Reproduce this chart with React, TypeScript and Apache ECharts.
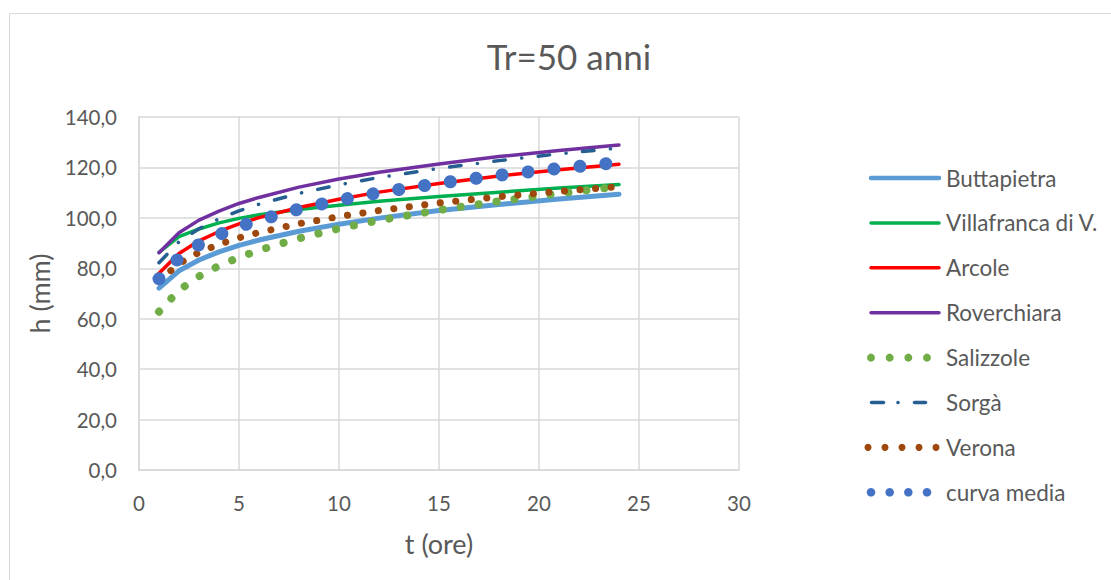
import React, { useEffect, useRef } from 'react';
import * as echarts from 'echarts';

const T = [1, 2, 3, 4, 5, 6, 8, 10, 12, 15, 18, 21, 24];
const buttapietra = [72.1, 79.0, 83.3, 86.5, 89.1, 91.2, 94.7, 97.5, 99.9, 102.9, 105.3, 107.5, 109.4];
const villafranca = [86.3, 92.6, 95.6, 98.0, 99.8, 101.2, 103.3, 105.0, 106.6, 108.5, 110.2, 111.8, 113.2];
const arcole = [78.0, 85.9, 90.9, 94.6, 97.6, 100.1, 104.1, 107.4, 110.2, 113.6, 116.6, 119.1, 121.3];
const roverchiara = [86.2, 94.1, 99.1, 102.7, 105.7, 108.1, 112.2, 115.4, 118.1, 121.4, 124.3, 126.7, 128.9];
const salizzole = [62.8, 71.3, 76.8, 81.0, 84.3, 87.2, 91.9, 95.8, 99.0, 103.1, 106.6, 109.7, 112.4];
const sorga = [82.2, 90.5, 95.7, 99.6, 102.8, 105.4, 109.7, 113.1, 116.0, 119.6, 122.7, 125.4, 127.7];
const verona = [75.0, 81.9, 86.3, 89.5, 92.1, 94.2, 97.7, 100.5, 102.9, 105.9, 108.4, 110.5, 112.4];
const curvaMedia = [75.8, 84.1, 89.4, 93.3, 96.5, 99.1, 103.5, 107.0, 110.0, 113.7, 116.9, 119.6, 122.0];

const xTicks = { min: 0, max: 30, interval: 5 };
const yTicks = { min: 0, max: 140, interval: 20 };

const FONT = 'Lato, "Open Sans", sans-serif';
const TEXT = '#595959';
const GRID = '#d9d9d9';

const pts = (vals: number[]) => T.map((t, i) => [t, vals[i]]);

type Def = {
  name: string;
  data: number[];
  color: string;
  width: number;
  dash: any;
  legend: { kind: 'solid' | 'dots' | 'dashdot'; count?: number; x2?: number; w?: number };
};

const seriesDefs: Def[] = [
  { name: 'Buttapietra', data: buttapietra, color: '#5B9BD5', width: 5, dash: 'solid', legend: { kind: 'solid', w: 4.5 } },
  { name: 'Villafranca di V.', data: villafranca, color: '#00B050', width: 3.5, dash: 'solid', legend: { kind: 'solid', w: 3.5 } },
  { name: 'Arcole', data: arcole, color: '#FF0000', width: 3.5, dash: 'solid', legend: { kind: 'solid', w: 3.5 } },
  { name: 'Roverchiara', data: roverchiara, color: '#7030A0', width: 3.5, dash: 'solid', legend: { kind: 'solid', w: 3.5 } },
  { name: 'Salizzole', data: salizzole, color: '#70AD47', width: 8, dash: [0.1, 18], legend: { kind: 'dots', count: 4, x2: 927, w: 8 } },
  { name: 'Sorgà', data: sorga, color: '#255E91', width: 3.5, dash: [11.5, 16.5, 0.1, 16.5], legend: { kind: 'dashdot', w: 3.5 } },
  { name: 'Verona', data: verona, color: '#9E480E', width: 7, dash: [0.1, 15.5], legend: { kind: 'dots', count: 5, x2: 936, w: 7 } },
  { name: 'curva media', data: curvaMedia, color: '#4472C4', width: 13, dash: [0.1, 26], legend: { kind: 'dots', count: 4, x2: 927, w: 8.5 } },
];

const LEG_X1 = 870;
const LEG_X2 = 940;
const LEG_Y0 = 178;
const LEG_DY = 44.9;
const LEG_TEXT_X = 946;

function legendGraphics() {
  const els: any[] = [];
  seriesDefs.forEach((s, i) => {
    const y = LEG_Y0 + i * LEG_DY;
    const L = s.legend;
    if (L.kind === 'solid') {
      els.push({
        type: 'line',
        silent: true,
        shape: { x1: LEG_X1 + 1, y1: y, x2: LEG_X2 - 1, y2: y },
        style: { stroke: s.color, lineWidth: L.w, lineCap: 'round' },
      });
    } else if (L.kind === 'dots') {
      const n = L.count as number;
      const x1 = s.name === 'Verona' ? 868 : 871;
      const step = ((L.x2 as number) - x1) / (n - 1);
      for (let k = 0; k < n; k++) {
        els.push({
          type: 'circle',
          silent: true,
          shape: { cx: x1 + k * step, cy: y, r: (L.w as number) / 2 },
          style: { fill: s.color },
        });
      }
    } else {
      els.push({
        type: 'line',
        silent: true,
        shape: { x1: 871.5, y1: y, x2: 883.5, y2: y },
        style: { stroke: s.color, lineWidth: L.w, lineCap: 'round' },
      });
      els.push({
        type: 'circle',
        silent: true,
        shape: { cx: 898, cy: y, r: 1.8 },
        style: { fill: s.color },
      });
      els.push({
        type: 'line',
        silent: true,
        shape: { x1: 914.5, y1: y, x2: 925.5, y2: y },
        style: { stroke: s.color, lineWidth: L.w, lineCap: 'round' },
      });
    }
    els.push({
      type: 'text',
      silent: true,
      x: LEG_TEXT_X,
      y: y,
      style: {
        text: s.name,
        fill: TEXT,
        font: `22.5px ${FONT}`,
        textVerticalAlign: 'middle',
        verticalAlign: 'middle',
        textAlign: 'left',
        align: 'left',
      },
    });
  });
  return els;
}

export default function App() {
  const ref = useRef<HTMLDivElement>(null);
  useEffect(() => {
    if (!ref.current) return;
    const chart = echarts.init(ref.current, null, { renderer: 'svg' });
    chart.setOption({
      animation: false,
      backgroundColor: '#ffffff',
      textStyle: { fontFamily: FONT, color: TEXT },
      title: {
        text: 'Tr=50 anni',
        left: 564,
        top: 33,
        textAlign: 'center',
        textStyle: { fontFamily: FONT, fontSize: 35, fontWeight: 'normal', color: TEXT },
      },
      graphic: [
        {
          type: 'rect',
          silent: true,
          z: -10,
          shape: { x: 9.5, y: 13.5, width: 1110, height: 580 },
          style: { fill: 'none', stroke: GRID, lineWidth: 1 },
        },
        ...legendGraphics(),
      ],
      grid: { left: 139, top: 117, right: 372, bottom: 110, containLabel: false },
      xAxis: {
        type: 'value',
        ...xTicks,
        name: 't (ore)',
        nameLocation: 'middle',
        nameGap: 60,
        nameTextStyle: { fontFamily: FONT, fontSize: 27, color: TEXT },
        axisLine: { show: true, lineStyle: { color: GRID, width: 1.5 } },
        axisTick: { show: false },
        axisLabel: { fontFamily: FONT, fontSize: 20.5, color: TEXT, margin: 22 },
        splitLine: { show: true, lineStyle: { color: GRID, width: 1.5 } },
      },
      yAxis: {
        type: 'value',
        ...yTicks,
        name: 'h (mm)',
        nameLocation: 'middle',
        nameGap: 86,
        nameTextStyle: { fontFamily: FONT, fontSize: 27, color: TEXT },
        axisLine: { show: true, lineStyle: { color: GRID, width: 1.5 } },
        axisTick: { show: false },
        axisLabel: {
          fontFamily: FONT,
          fontSize: 20.5,
          color: TEXT,
          margin: 22,
          formatter: (v: number) => v.toFixed(1).replace('.', ','),
        },
        splitLine: { show: true, lineStyle: { color: GRID, width: 1.5 } },
      },
      series: seriesDefs.map((s) => ({
        name: s.name,
        type: 'line',
        data: pts(s.data),
        symbol: 'none',
        showSymbol: false,
        smooth: false,
        color: s.color,
        lineStyle: { color: s.color, width: s.width, type: s.dash, cap: 'round', join: 'round' },
        emphasis: { disabled: true },
      })),
    });
    return () => chart.dispose();
  }, []);
  return (
    <div
      ref={ref}
      style={{ position: 'fixed', left: 0, top: 0, width: 1111, height: 580 }}
    />
  );
}
